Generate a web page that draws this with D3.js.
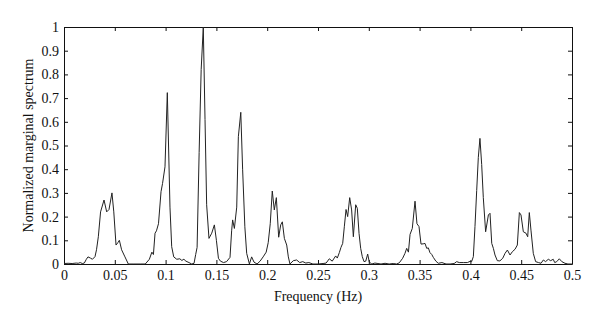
<!DOCTYPE html>
<html>
<head>
<meta charset="utf-8">
<script src="https://cdn.jsdelivr.net/npm/d3@7"></script>
<style>
  html, body { margin: 0; padding: 0; background: #fff; }
  svg { display: block; }
  .axis text { font-family: "Liberation Serif", "Times New Roman", serif; font-size: 14px; fill: #111; }
  .axis path, .axis line { stroke: #111; stroke-width: 1; }
  .title { font-family: "Liberation Serif", "Times New Roman", serif; font-size: 14px; fill: #111; }
</style>
</head>
<body>
<svg id="chart" width="600" height="323"></svg>
<script>
// Frequency (Hz) of each spectrum sample
const frequency = [
  0.000, 0.004, 0.008, 0.012, 0.014, 0.016, 0.018, 0.020, 0.022, 0.0236,
  0.026, 0.028, 0.0305, 0.032, 0.0338, 0.036, 0.0394, 0.042, 0.0443, 0.0472,
  0.049, 0.0512, 0.053, 0.0545, 0.0567, 0.060, 0.0633, 0.068, 0.075, 0.080,
  0.084, 0.0865, 0.088, 0.0896, 0.091, 0.093, 0.0955, 0.097, 0.0994, 0.1017,
  0.1043, 0.106, 0.108, 0.111, 0.114, 0.116, 0.118, 0.120, 0.123, 0.1257,
  0.128, 0.1296, 0.131, 0.133, 0.135, 0.1371, 0.1388, 0.1404, 0.1427, 0.1454,
  0.148, 0.150, 0.152, 0.154, 0.157, 0.160, 0.1634, 0.165, 0.166, 0.1677,
  0.170, 0.1716, 0.174, 0.1758, 0.178, 0.1798, 0.1825, 0.1847, 0.187, 0.190,
  0.193, 0.196, 0.199, 0.201, 0.203, 0.205, 0.207, 0.209, 0.2113, 0.2133,
  0.2149, 0.2169, 0.2192, 0.2208, 0.2224, 0.2257, 0.229, 0.232, 0.235, 0.238,
  0.241, 0.245, 0.250, 0.255, 0.258, 0.2611, 0.264, 0.2674, 0.269, 0.271,
  0.2726, 0.2743, 0.2759, 0.2776, 0.2792, 0.2812, 0.2831, 0.2848, 0.2871, 0.2887,
  0.2904, 0.292, 0.2936, 0.2953, 0.297, 0.2989, 0.3005, 0.303, 0.306, 0.309,
  0.312, 0.316, 0.320, 0.324, 0.3274, 0.330, 0.3333, 0.3356, 0.3373, 0.339,
  0.3406, 0.3428, 0.3455, 0.3474, 0.3494, 0.3514, 0.3535, 0.3553, 0.357, 0.3586,
  0.3602, 0.362, 0.3635, 0.366, 0.3684, 0.372, 0.376, 0.380, 0.384, 0.3865,
  0.389, 0.393, 0.397, 0.3996, 0.4012, 0.4029, 0.4045, 0.4062, 0.4078, 0.4094,
  0.4111, 0.4127, 0.415, 0.4177, 0.4193, 0.421, 0.4226, 0.4242, 0.4265, 0.429,
  0.4318, 0.4341, 0.4364, 0.439, 0.4413, 0.4439, 0.4462, 0.4482, 0.4498, 0.4521,
  0.4547, 0.4564, 0.458, 0.4596, 0.4619, 0.4642, 0.467, 0.4695, 0.4718, 0.474,
  0.4767, 0.479, 0.4815, 0.483, 0.485, 0.4875, 0.490, 0.4931, 0.496, 0.500
];

// Normalized marginal spectrum at each frequency
const spectrum = [
  0.002, 0.003, 0.002, 0.004, 0.003, 0.006, 0.002, 0.004, 0.020, 0.030,
  0.025, 0.020, 0.031, 0.060, 0.115, 0.220, 0.270, 0.220, 0.230, 0.300,
  0.220, 0.080, 0.090, 0.100, 0.060, 0.030, 0.000, 0.000, 0.000, 0.000,
  0.020, 0.050, 0.040, 0.130, 0.140, 0.170, 0.305, 0.340, 0.410, 0.723,
  0.240, 0.073, 0.030, 0.020, 0.022, 0.015, 0.020, 0.012, 0.006, 0.000,
  0.003, 0.040, 0.070, 0.470, 0.820, 1.000, 0.610, 0.250, 0.108, 0.130,
  0.165, 0.100, 0.024, 0.012, 0.006, 0.010, 0.028, 0.140, 0.186, 0.150,
  0.240, 0.537, 0.640, 0.400, 0.157, 0.045, 0.000, 0.030, 0.008, 0.000,
  0.012, 0.030, 0.050, 0.090, 0.170, 0.308, 0.228, 0.280, 0.113, 0.165,
  0.178, 0.108, 0.080, 0.030, 0.000, 0.014, 0.017, 0.006, 0.010, 0.004,
  0.006, 0.000, 0.000, 0.002, 0.004, 0.022, 0.012, 0.034, 0.025, 0.048,
  0.070, 0.087, 0.157, 0.230, 0.200, 0.280, 0.228, 0.115, 0.250, 0.235,
  0.129, 0.066, 0.031, 0.010, 0.012, 0.042, 0.008, 0.000, 0.004, 0.002,
  0.000, 0.003, 0.000, 0.002, 0.000, 0.005, 0.024, 0.045, 0.066, 0.050,
  0.125, 0.150, 0.265, 0.170, 0.158, 0.084, 0.085, 0.087, 0.066, 0.068,
  0.048, 0.040, 0.028, 0.012, 0.003, 0.006, 0.000, 0.000, 0.002, 0.010,
  0.006, 0.006, 0.006, 0.011, 0.010, 0.031, 0.158, 0.310, 0.450, 0.530,
  0.420, 0.280, 0.136, 0.207, 0.214, 0.087, 0.066, 0.038, 0.014, 0.013,
  0.024, 0.045, 0.059, 0.038, 0.052, 0.062, 0.080, 0.217, 0.207, 0.136,
  0.130, 0.115, 0.217, 0.143, 0.045, 0.010, 0.006, 0.003, 0.017, 0.010,
  0.020, 0.014, 0.020, 0.006, 0.010, 0.022, 0.010, 0.003, 0.000, 0.000
];

// Tick values for both axes
const xTicks = [0, 0.05, 0.1, 0.15, 0.2, 0.25, 0.3, 0.35, 0.4, 0.45, 0.5];
const yTicks = [0, 0.1, 0.2, 0.3, 0.4, 0.5, 0.6, 0.7, 0.8, 0.9, 1];

const xLabel = "Frequency (Hz)";
const yLabel = "Normalized marginal spectrum";

const svg = d3.select("#chart");
const margin = { left: 64, right: 28, top: 27, bottom: 59 };
const W = 600, H = 323;

const x = d3.scaleLinear().domain([0, 0.5]).range([margin.left, W - margin.right]);
const y = d3.scaleLinear().domain([0, 1]).range([H - margin.bottom, margin.top]);

const fmt = d => String(+d.toFixed(2));
const tickLen = 4;

// Bottom axis with labels, ticks pointing into the plot
svg.append("g")
  .attr("class", "axis")
  .attr("transform", `translate(0,${y(0)})`)
  .call(d3.axisBottom(x).tickValues(xTicks).tickFormat(fmt)
    .tickSizeInner(-tickLen).tickSizeOuter(0).tickPadding(6));

// Left axis with labels
svg.append("g")
  .attr("class", "axis")
  .attr("transform", `translate(${x(0)},0)`)
  .call(d3.axisLeft(y).tickValues(yTicks).tickFormat(fmt)
    .tickSizeInner(-tickLen).tickSizeOuter(0).tickPadding(5));

// Top and right edges of the box, ticks only
svg.append("g")
  .attr("class", "axis")
  .attr("transform", `translate(0,${y(1)})`)
  .call(d3.axisTop(x).tickValues(xTicks).tickFormat("")
    .tickSizeInner(-tickLen).tickSizeOuter(0));

svg.append("g")
  .attr("class", "axis")
  .attr("transform", `translate(${x(0.5)},0)`)
  .call(d3.axisRight(y).tickValues(yTicks).tickFormat("")
    .tickSizeInner(-tickLen).tickSizeOuter(0));

// Spectrum curve
const points = frequency.map((f, i) => [f, spectrum[i]]);
svg.append("path")
  .datum(points)
  .attr("fill", "none")
  .attr("stroke", "#222")
  .attr("stroke-width", 1)
  .attr("stroke-linejoin", "round")
  .attr("d", d3.line().x(d => x(d[0])).y(d => y(d[1])));

// Axis titles
svg.append("text")
  .attr("class", "title")
  .attr("x", (x(0) + x(0.5)) / 2)
  .attr("y", 301)
  .attr("text-anchor", "middle")
  .text(xLabel);

svg.append("text")
  .attr("class", "title")
  .attr("transform", `translate(33,${(y(0) + y(1)) / 2}) rotate(-90)`)
  .attr("text-anchor", "middle")
  .text(yLabel);
</script>
</body>
</html>
